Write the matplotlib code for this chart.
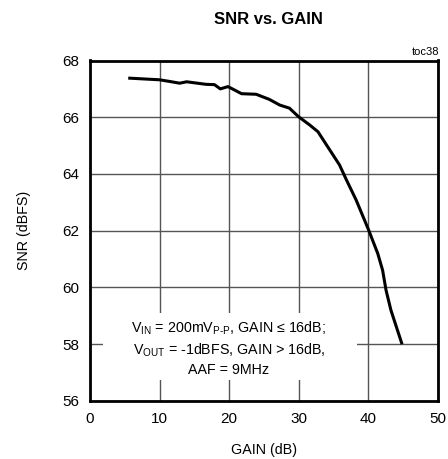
import matplotlib
matplotlib.use("Agg")
import matplotlib.pyplot as plt
from matplotlib.patches import Rectangle
import numpy as np

plt.rcParams['font.family'] = ['Liberation Sans', 'DejaVu Sans']
plt.rcParams['mathtext.fontset'] = 'custom'
plt.rcParams['mathtext.rm'] = 'Liberation Sans'
plt.rcParams['mathtext.it'] = 'Liberation Sans'

gain = [5.5, 10.0, 11.5, 12.9, 13.9, 16.7, 17.9, 18.75, 19.85, 20.8, 21.8, 23.9,
        25.8, 27.3, 28.7, 30.0, 31.6, 32.8, 34.2, 35.9, 36.9, 38.3, 40.1, 41.4,
        42.1, 42.6, 43.3, 44.9]
snr = [67.38, 67.32, 67.26, 67.2, 67.25, 67.16, 67.15, 67.0, 67.08, 66.96, 66.83, 66.81,
       66.63, 66.43, 66.32, 66.02, 65.73, 65.49, 64.96, 64.32, 63.79, 63.08, 62.02, 61.2,
       60.61, 59.9, 59.2, 58.0]

xticks = [0, 10, 20, 30, 40, 50]
yticks = [56, 58, 60, 62, 64, 66, 68]

fig = plt.figure(figsize=(4.48, 4.59), dpi=100)
ax = fig.add_axes([90/448, 1-401/459, (437.5-90)/448, (401-60.5)/459])
ax.set_xlim(0, 50)
ax.set_ylim(56, 68)
ax.set_xticks(xticks)
ax.set_yticks(yticks)
ax.grid(True, color='#555555', linewidth=1.0)
ax.tick_params(length=0, labelsize=11, pad=8)
for s in ax.spines.values():
    s.set_linewidth(2.0)
    s.set_color('black')
ax.set_axisbelow(True)

# white background box behind the annotation (covers gridlines)
ax.add_patch(Rectangle((1.9, 56.74), 36.5, 2.36, facecolor='white',
                       edgecolor='none', zorder=1))

ax.plot(gain, snr, color='black', linewidth=2.2, solid_capstyle='butt',
        solid_joinstyle='round', zorder=3)

ax.text(20.0, 57.87,
        "V$_{\\rm IN}$ = 200mV$_{\\rm P\\text{-}P}$, GAIN \u2264 16dB;\nV$_{\\rm OUT}$ = -1dBFS, GAIN > 16dB,\nAAF = 9MHz",
        ha='center', va='center', fontsize=10.3, linespacing=1.35, zorder=2)

ax.set_xlabel("GAIN (dB)", fontsize=10.3, labelpad=12)
ax.set_ylabel("SNR (dBFS)", fontsize=10.3, labelpad=22)
fig.text(268/448, 1-20/459, "SNR vs. GAIN", ha='center', va='center',
         fontsize=12, fontweight='bold')
fig.text(439/448, 1-52/459, "toc38", ha='right', va='center', fontsize=8)

fig.savefig("out.png", dpi=100)
